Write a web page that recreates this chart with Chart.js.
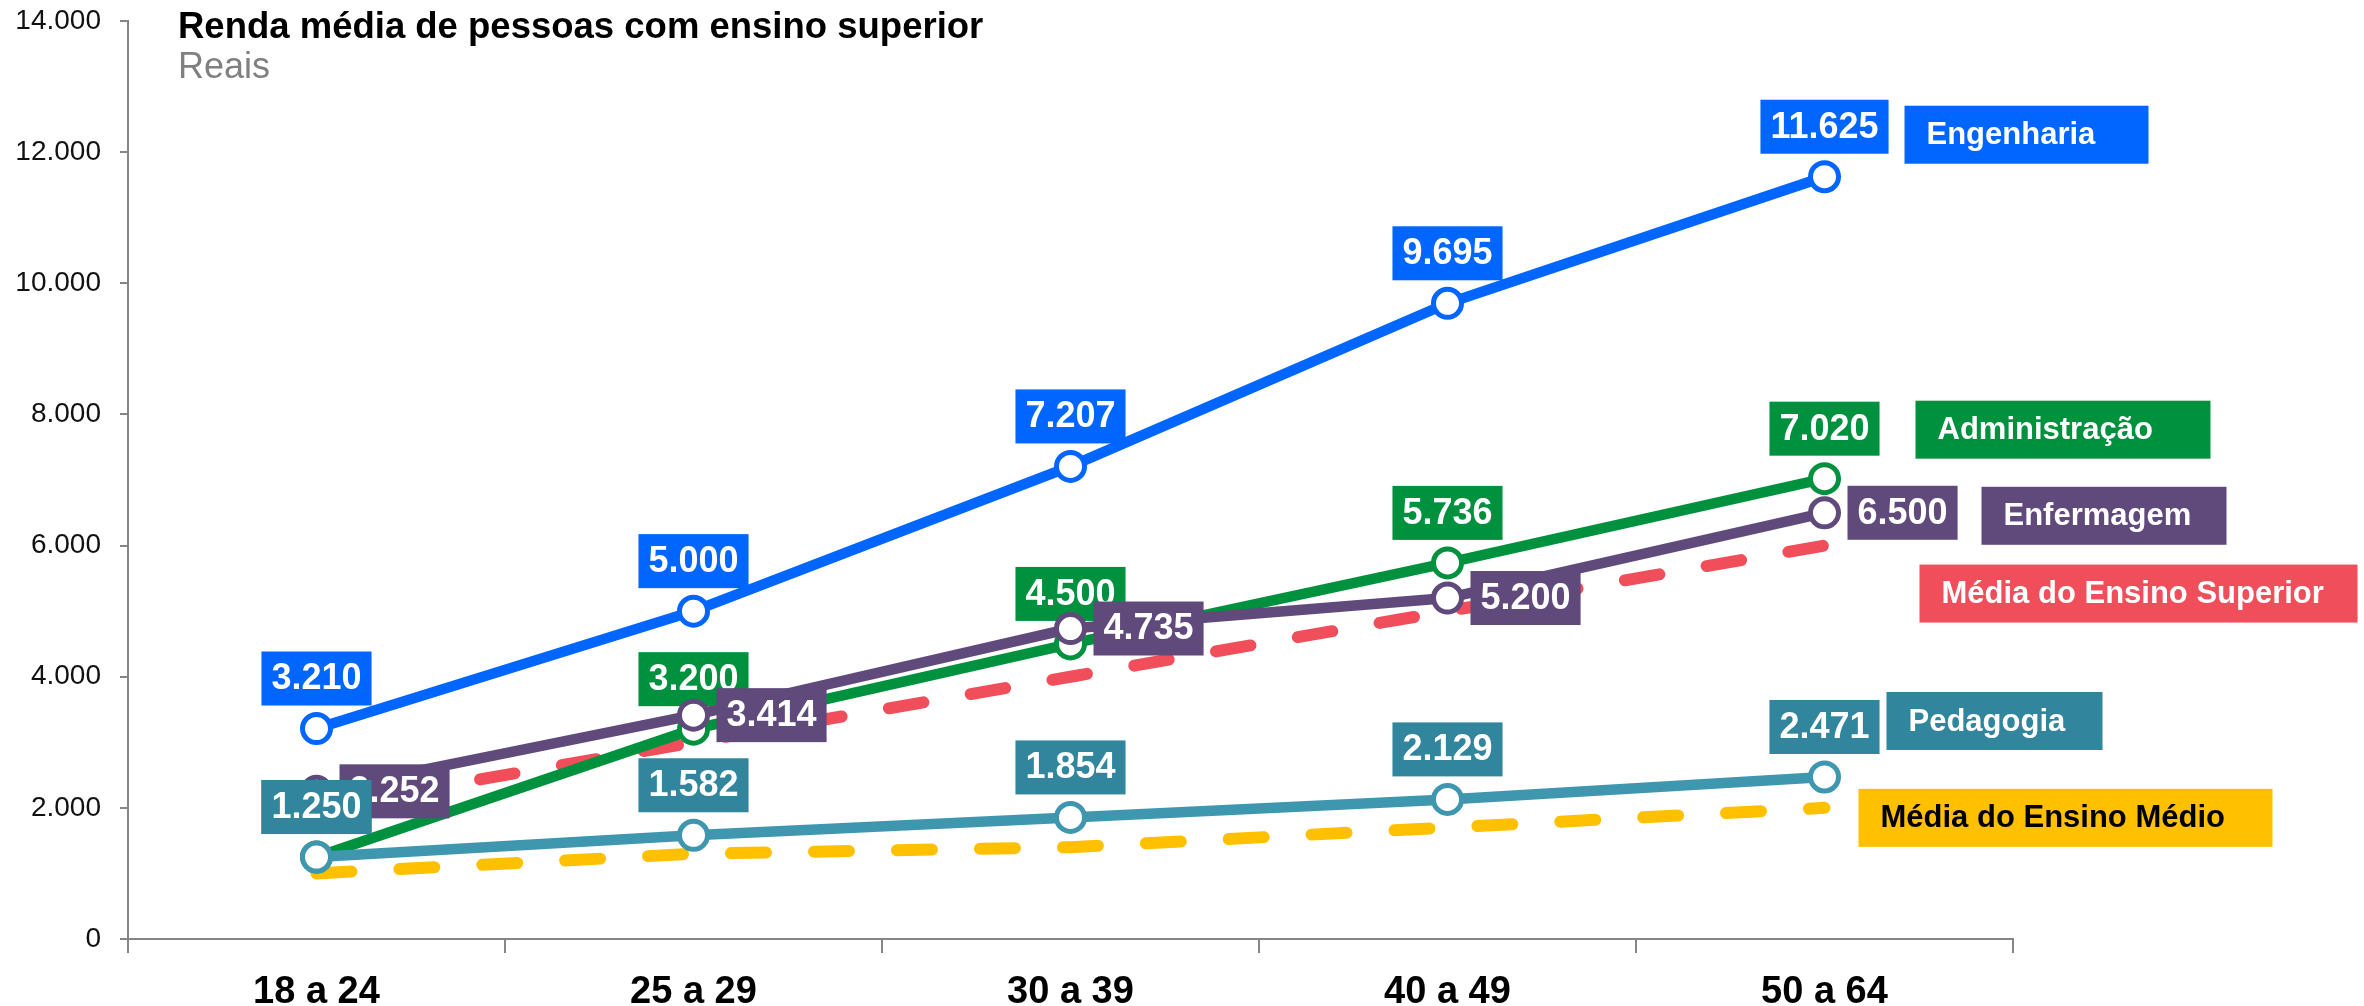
<!DOCTYPE html>
<html lang="pt-BR">
<head>
<meta charset="utf-8">
<title>Renda média de pessoas com ensino superior</title>
<script src="https://cdn.jsdelivr.net/npm/chart.js@4.4.1/dist/chart.umd.min.js"></script>
<style>
  html, body { margin: 0; padding: 0; background: #ffffff; }
  #wrap { width: 2364px; height: 1006px; position: relative; }
</style>
</head>
<body>
<div id="wrap"><canvas id="chart" width="2364" height="1006"></canvas></div>
<script>
// Faixas etárias e renda média (R$) por área de formação
const categories = ['18 a 24', '25 a 29', '30 a 39', '40 a 49', '50 a 64'];
const engenharia = [3210, 5000, 7207, 9695, 11625];
const pedagogia = [1250, 1582, 1854, 2129, 2471];
const enfermagem = [2252, 3414, 4735, 5200, 6500];
const administracao = [1250, 3200, 4500, 5736, 7020];
const mediaSuperior = [2000, 3000, 4000, 5000, 6000];
const mediaMedio = [1000, 1300, 1400, 1700, 2000];
const yTickLabels = ['0', '2.000', '4.000', '6.000', '8.000', '10.000', '12.000', '14.000'];

const titleText = 'Renda média de pessoas com ensino superior';
const subtitleText = 'Reais';

const FONT = '"Liberation Sans", Arial, sans-serif';

const COLORS = {
  engenharia: '#0066FF',
  pedagogiaLine: '#3F97AF',
  pedagogiaBox: '#31859C',
  enfermagem: '#604A7B',
  administracao: '#00913F',
  superior: '#F04E5A',
  medio: '#FFC000'
};

// Estilo das etiquetas de valor e das caixas com o nome de cada série
const labelStyles = {
  'Engenharia':               { box: COLORS.engenharia,   place: 'top',   name: { dx: 80,  dy: -42, w: 244, text: '#ffffff' } },
  'Pedagogia':                { box: COLORS.pedagogiaBox, place: 'top',   name: { dx: 62,  dy: -56, w: 216, text: '#ffffff' } },
  'Enfermagem':               { box: COLORS.enfermagem,   place: 'right', name: { dx: 157, dy: 3,   w: 245, text: '#ffffff' } },
  'Administração':            { box: COLORS.administracao, place: 'top',  name: { dx: 91,  dy: -49, w: 295, text: '#ffffff' } },
  'Média do Ensino Superior': { box: null,                place: null,    name: { dx: 95,  dy: 48,  w: 438, text: '#ffffff', bg: COLORS.superior } },
  'Média do Ensino Médio':    { box: null,                place: null,    name: { dx: 34,  dy: 10,  w: 414, text: '#000000', bg: COLORS.medio } }
};

function fmt(n) {
  return String(n).replace(/\B(?=(\d{3})+(?!\d))/g, '.');
}

// Etiquetas de valor desenhadas logo após cada série, para manter a sobreposição
const valueLabels = {
  id: 'valueLabels',
  afterDatasetDraw(chart, args) {
    const ds = chart.data.datasets[args.index];
    const st = labelStyles[ds.label];
    if (!st || !st.box) return;
    const ctx = chart.ctx;
    const h = 54, padX = 10, gap = 23;
    ctx.save();
    ctx.font = 'bold 36px ' + FONT;
    ctx.textAlign = 'center';
    ctx.textBaseline = 'middle';
    args.meta.data.forEach((pt, i) => {
      const text = fmt(ds.data[i]);
      const w = ctx.measureText(text).width + padX * 2;
      let bx, by;
      if (st.place === 'right') { bx = pt.x + gap; by = pt.y - h / 2; }
      else { bx = pt.x - w / 2; by = pt.y - gap - h; }
      ctx.fillStyle = st.box;
      ctx.fillRect(bx, by, w, h);
      ctx.fillStyle = '#ffffff';
      ctx.fillText(text, bx + w / 2, by + h / 2 + 1);
    });
    ctx.restore();
  },
  afterDatasetsDraw(chart) {
    const ctx = chart.ctx;
    const h = 58;
    ctx.save();
    ctx.font = 'bold 31px ' + FONT;
    ctx.textAlign = 'left';
    ctx.textBaseline = 'middle';
    chart.data.datasets.forEach((ds, di) => {
      const st = labelStyles[ds.label];
      const meta = chart.getDatasetMeta(di);
      const last = meta.data[meta.data.length - 1];
      const n = st.name;
      const bx = last.x + n.dx;
      const by = last.y + n.dy - h / 2;
      ctx.fillStyle = n.bg || st.box;
      ctx.fillRect(bx, by, n.w, h);
      ctx.fillStyle = n.text;
      ctx.fillText(ds.label, bx + 22, by + h / 2 + 1);
    });
    ctx.restore();
  },
  afterDraw(chart) {
    const ctx = chart.ctx;
    ctx.save();
    ctx.textAlign = 'left';
    ctx.textBaseline = 'middle';
    ctx.fillStyle = '#000000';
    ctx.font = 'bold 36.5px ' + FONT;
    ctx.fillText(titleText, 178, 28);
    ctx.fillStyle = '#808080';
    ctx.font = '36px ' + FONT;
    ctx.fillText(subtitleText, 178, 68);
    ctx.restore();
  }
};

function solidSeries(label, data, color) {
  return {
    label, data,
    borderColor: color,
    backgroundColor: '#ffffff',
    borderWidth: 10.5,
    pointRadius: 14,
    pointBorderWidth: 5,
    pointBackgroundColor: '#ffffff',
    pointBorderColor: color,
    pointHoverRadius: 14,
    tension: 0,
    fill: false
  };
}

function dashedSeries(label, data, color) {
  return {
    label, data,
    borderColor: color,
    borderWidth: 12,
    borderDash: [35, 48],
    borderCapStyle: 'round',
    pointRadius: 0,
    pointHoverRadius: 0,
    tension: 0,
    fill: false
  };
}

const axisGray = '#868686';

new Chart(document.getElementById('chart'), {
  type: 'line',
  data: {
    labels: categories,
    // a primeira série fica por cima das demais
    datasets: [
      solidSeries('Engenharia', engenharia, COLORS.engenharia),
      solidSeries('Pedagogia', pedagogia, COLORS.pedagogiaLine),
      solidSeries('Enfermagem', enfermagem, COLORS.enfermagem),
      solidSeries('Administração', administracao, COLORS.administracao),
      dashedSeries('Média do Ensino Superior', mediaSuperior, COLORS.superior),
      dashedSeries('Média do Ensino Médio', mediaMedio, COLORS.medio)
    ]
  },
  options: {
    responsive: false,
    animation: false,
    devicePixelRatio: 1,
    layout: { autoPadding: false, padding: { top: 21, right: 351, left: 0, bottom: 0 } },
    plugins: {
      legend: { display: false },
      title: { display: false },
      tooltip: { enabled: false }
    },
    events: [],
    scales: {
      x: {
        type: 'category',
        offset: true,
        grid: {
          offset: true,
          drawOnChartArea: false,
          drawTicks: true,
          tickLength: 14,
          color: axisGray,
          lineWidth: 2
        },
        border: { color: axisGray, width: 2 },
        ticks: {
          color: '#000000',
          font: { family: FONT, size: 38, weight: 'bold' },
          padding: 17,
          maxRotation: 0,
          autoSkip: false
        },
        afterFit(scale) { scale.height = 67; }
      },
      y: {
        min: 0,
        max: 14000,
        grid: {
          drawOnChartArea: false,
          drawTicks: true,
          tickLength: 8,
          color: axisGray,
          lineWidth: 2
        },
        border: { color: axisGray, width: 2 },
        ticks: {
          stepSize: 2000,
          color: '#111111',
          font: { family: FONT, size: 28 },
          padding: 19,
          callback: (v, i) => yTickLabels[i]
        },
        afterFit(scale) {
          scale.width = 128;
          scale.paddingTop = 0;
          scale.paddingBottom = 0;
        }
      }
    }
  },
  plugins: [valueLabels]
});
</script>
</body>
</html>
